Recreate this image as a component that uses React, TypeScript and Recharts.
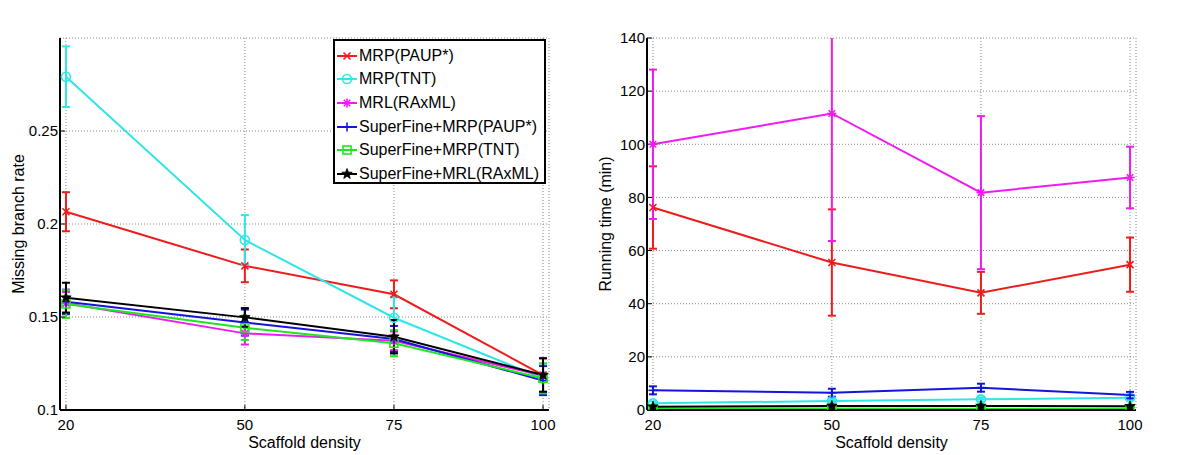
import { CartesianGrid, ErrorBar, Line, LineChart, XAxis, YAxis } from 'recharts';

// scaffold density (x) shared by both panels
const density = [20, 50, 75, 100];

// left panel: missing branch rate
const rateMrpPaup = [0.2066, 0.1775, 0.1622, 0.1188];
const rateMrpPaupErr = [0.0105, 0.0088, 0.0075, 0.009];
const rateMrpTnt = [0.2792, 0.1914, 0.1496, 0.117];
const rateMrpTntErr = [0.0163, 0.0134, 0.011, 0.008];
const rateMrl = [0.1574, 0.1412, 0.1372, 0.1185];
const rateMrlErr = [0.006, 0.006, 0.005, 0.0095];
const rateSfPaup = [0.1582, 0.147, 0.1382, 0.1158];
const rateSfPaupErr = [0.0065, 0.007, 0.007, 0.0078];
const rateSfTnt = [0.157, 0.1442, 0.1359, 0.117];
const rateSfTntErr = [0.0075, 0.0065, 0.007, 0.008];
const rateSfMrl = [0.1604, 0.1498, 0.1394, 0.1188];
const rateSfMrlErr = [0.008, 0.005, 0.009, 0.009];

// right panel: running time (min)
const timeMrpPaup = [76.2, 55.5, 44.1, 54.7];
const timeMrpPaupErr = [15.5, 20, 7.9, 10.2];
const timeMrpTnt = [2.5, 3.4, 4.0, 4.6];
const timeMrpTntErr = [0.8, 0.8, 0.8, 0.8];
const timeMrl = [100, 111.6, 81.8, 87.5];
const timeMrlErr = [28.1, 48, 28.8, 11.6];
const timeSfPaup = [7.4, 6.5, 8.4, 5.6];
const timeSfPaupErr = [1.5, 1.5, 1.5, 1.2];
const timeSfTnt = [0.5, 0.6, 0.5, 0.5];
const timeSfTntErr = [0.2, 0.2, 0.2, 0.2];
const timeSfMrl = [1.2, 1.5, 1.5, 1.4];
const timeSfMrlErr = [0.3, 0.3, 0.3, 0.3];

const xTicks = [20, 50, 75, 100];
const rateTicks = [0.1, 0.15, 0.2, 0.25];
const timeTicks = [0, 20, 40, 60, 80, 100, 120, 140];

type MarkerKind = 'x' | 'o' | 'star' | 'plus' | 'square' | 'pentagram';

const seriesInfo: { key: string; label: string; color: string; marker: MarkerKind }[] = [
  { key: 'mrpPaup', label: 'MRP(PAUP*)', color: '#ee1c1c', marker: 'x' },
  { key: 'mrpTnt', label: 'MRP(TNT)', color: '#2ee6e6', marker: 'o' },
  { key: 'mrl', label: 'MRL(RAxML)', color: '#ee1cee', marker: 'star' },
  { key: 'sfPaup', label: 'SuperFine+MRP(PAUP*)', color: '#1414e0', marker: 'plus' },
  { key: 'sfTnt', label: 'SuperFine+MRP(TNT)', color: '#1ee61e', marker: 'square' },
  { key: 'sfMrl', label: 'SuperFine+MRL(RAxML)', color: '#000000', marker: 'pentagram' },
];

function buildRows(values: number[][], errors: number[][]) {
  return density.map((d, i) => {
    const row: Record<string, number> = { density: d };
    seriesInfo.forEach((s, k) => {
      row[s.key] = values[k][i];
      row[s.key + 'Err'] = errors[k][i];
    });
    return row;
  });
}

const rateData = buildRows(
  [rateMrpPaup, rateMrpTnt, rateMrl, rateSfPaup, rateSfTnt, rateSfMrl],
  [rateMrpPaupErr, rateMrpTntErr, rateMrlErr, rateSfPaupErr, rateSfTntErr, rateSfMrlErr],
);
const timeData = buildRows(
  [timeMrpPaup, timeMrpTnt, timeMrl, timeSfPaup, timeSfTnt, timeSfMrl],
  [timeMrpPaupErr, timeMrpTntErr, timeMrlErr, timeSfPaupErr, timeSfTntErr, timeSfMrlErr],
);

const FONT = '"Liberation Sans", Arial, sans-serif';

// panel geometry
const W = 600;
const H = 455;
const MARGIN = { top: 38, right: 51, bottom: 7, left: 10 };
const Y_AXIS_W = 50;
const X_AXIS_H = 38;
const PLOT = {
  x: MARGIN.left + Y_AXIS_W,
  y: MARGIN.top,
  w: W - MARGIN.left - MARGIN.right - Y_AXIS_W,
  h: H - MARGIN.top - MARGIN.bottom - X_AXIS_H,
};

function markerShape(kind: MarkerKind, cx: number, cy: number, color: string, key?: string | number) {
  const sw = 1.6;
  if (kind === 'x') {
    const r = 3.5;
    return (
      <g key={key} stroke={color} strokeWidth={sw}>
        <line x1={cx - r} y1={cy - r} x2={cx + r} y2={cy + r} />
        <line x1={cx - r} y1={cy + r} x2={cx + r} y2={cy - r} />
      </g>
    );
  }
  if (kind === 'o') {
    return <circle key={key} cx={cx} cy={cy} r={4.5} fill="none" stroke={color} strokeWidth={sw} />;
  }
  if (kind === 'star') {
    const r = 4.5;
    const d = r * 0.72;
    return (
      <g key={key} stroke={color} strokeWidth={sw}>
        <line x1={cx - r} y1={cy} x2={cx + r} y2={cy} />
        <line x1={cx} y1={cy - r} x2={cx} y2={cy + r} />
        <line x1={cx - d} y1={cy - d} x2={cx + d} y2={cy + d} />
        <line x1={cx - d} y1={cy + d} x2={cx + d} y2={cy - d} />
      </g>
    );
  }
  if (kind === 'plus') {
    const r = 4.5;
    return (
      <g key={key} stroke={color} strokeWidth={sw}>
        <line x1={cx - r} y1={cy} x2={cx + r} y2={cy} />
        <line x1={cx} y1={cy - r} x2={cx} y2={cy + r} />
      </g>
    );
  }
  if (kind === 'square') {
    return (
      <rect key={key} x={cx - 4} y={cy - 4} width={8} height={8} fill="none" stroke={color} strokeWidth={sw} />
    );
  }
  const pts: string[] = [];
  for (let i = 0; i < 10; i++) {
    const a = -Math.PI / 2 + (i * Math.PI) / 5;
    const rr = i % 2 === 0 ? 5.5 : 2.3;
    pts.push(`${cx + rr * Math.cos(a)},${cy + rr * Math.sin(a)}`);
  }
  return <polygon key={key} points={pts.join(' ')} fill={color} stroke={color} strokeWidth={0.8} />;
}

function makeDot(kind: MarkerKind, color: string) {
  return (props: any) => {
    const { cx, cy, index } = props;
    if (cx == null || cy == null) return <g key={`d-${index}`} />;
    return markerShape(kind, cx, cy, color, `d-${index}`);
  };
}

const tickStyle = { fill: '#000', fontSize: 15, fontFamily: FONT };
const axisLine = { stroke: '#000', strokeWidth: 2 };
const tickLine = { stroke: '#000', strokeWidth: 1 };

function Panel({
  data,
  yDomain,
  yTicks,
  yLabel,
}: {
  data: Record<string, number>[];
  yDomain: [number, number];
  yTicks: number[];
  yLabel: string;
}) {
  return (
    <LineChart width={W} height={H} data={data} margin={MARGIN}>
      <CartesianGrid stroke="#8a8a8a" strokeDasharray="1 2" strokeWidth={1} />
      <XAxis
        dataKey="density"
        type="number"
        domain={[19, 101]}
        ticks={xTicks}
        allowDataOverflow
        height={X_AXIS_H}
        axisLine={axisLine}
        tickLine={tickLine}
        tickSize={-5}
        tickMargin={14}
        tick={tickStyle}
        label={{
          value: 'Scaffold density',
          position: 'insideBottom',
          offset: 0,
          style: { fill: '#000', fontSize: 16, fontFamily: FONT },
        }}
      />
      <YAxis
        type="number"
        domain={yDomain}
        ticks={yTicks}
        allowDataOverflow
        width={Y_AXIS_W}
        axisLine={axisLine}
        tickLine={tickLine}
        tickSize={-5}
        tickMargin={7}
        tick={tickStyle}
        tickFormatter={(v: number) => String(v)}
        label={{
          value: yLabel,
          angle: -90,
          position: 'insideLeft',
          offset: 8,
          style: { fill: '#000', fontSize: 16, fontFamily: FONT, textAnchor: 'middle' },
        }}
      />
      {seriesInfo.map((s) => (
        <Line
          key={s.key}
          dataKey={s.key}
          type="linear"
          stroke={s.color}
          strokeWidth={2}
          dot={makeDot(s.marker, s.color)}
          activeDot={false}
          isAnimationActive={false}
        >
          <ErrorBar
            dataKey={s.key + 'Err'}
            direction="y"
            width={4}
            stroke={s.color}
            strokeWidth={2}
            isAnimationActive={false}
          />
        </Line>
      ))}
    </LineChart>
  );
}

function LegendBox() {
  return (
    <div
      style={{
        position: 'absolute',
        left: 333,
        top: 39,
        width: 213,
        height: 145,
        boxSizing: 'border-box',
        border: '2px solid #000',
        background: '#fff',
        paddingTop: 3,
        fontFamily: FONT,
        fontSize: 16,
        color: '#000',
      }}
    >
      {seriesInfo.map((s) => (
        <div key={s.key} style={{ display: 'flex', alignItems: 'center', height: 23.6 }}>
          <svg width={24} height={14} style={{ flexShrink: 0 }}>
            <line x1={2} y1={7} x2={22} y2={7} stroke={s.color} strokeWidth={2} />
            {markerShape(s.marker, 12, 7, s.color)}
          </svg>
          <span style={{ whiteSpace: 'nowrap' }}>{s.label}</span>
        </div>
      ))}
    </div>
  );
}

export default function App() {
  return (
    <div
      style={{
        position: 'absolute',
        left: 0,
        top: 0,
        width: 1200,
        height: 455,
        background: '#fff',
        overflow: 'hidden',
      }}
    >
      <style>{`.panel .recharts-errorBars { clip-path: url(#plotAreaClip); }`}</style>
      <svg width={0} height={0} style={{ position: 'absolute' }}>
        <defs>
          <clipPath id="plotAreaClip" clipPathUnits="userSpaceOnUse">
            <rect x={PLOT.x - 10} y={PLOT.y} width={PLOT.w + 20} height={PLOT.h + 10} />
          </clipPath>
        </defs>
      </svg>
      <div className="panel" style={{ position: 'absolute', left: 0, top: 0 }}>
        <Panel data={rateData} yDomain={[0.1, 0.3]} yTicks={rateTicks} yLabel="Missing branch rate" />
      </div>
      <div className="panel" style={{ position: 'absolute', left: 587, top: 0 }}>
        <Panel data={timeData} yDomain={[0, 140]} yTicks={timeTicks} yLabel="Running time (min)" />
      </div>
      <LegendBox />
    </div>
  );
}
